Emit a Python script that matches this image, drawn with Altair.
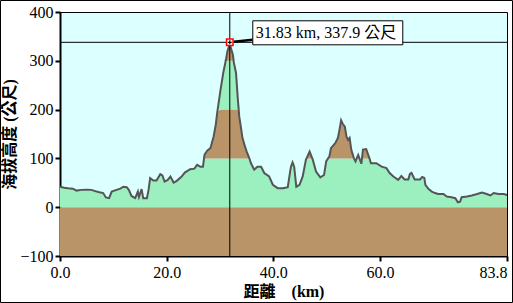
import altair as alt
import pandas as pd

# distance (km) and elevation (m) read from the profile
km = [0.0, 0.8, 1.5, 2.4, 3.1, 4.0, 5.0, 5.9, 6.6, 7.2, 8.1, 8.6, 9.2, 9.7, 10.6,
      11.3, 11.9, 12.5, 12.9, 13.4, 14.1, 14.6, 14.8, 15.3, 15.6, 16.3, 16.6, 16.9,
      17.5, 18.1, 18.8, 19.2, 19.6, 20.2, 20.7, 21.3, 21.9, 22.8, 23.4, 24.4, 25.2,
      25.7, 26.3, 26.8, 27.1, 27.6, 28.2, 28.8, 29.2, 29.5, 30.1, 30.6, 31.1, 31.4,
      31.83, 32.2, 32.4, 32.6, 33.0, 33.3, 33.6, 33.9, 34.2, 34.5, 34.7, 35.0, 35.5,
      35.8, 36.4, 37.0, 37.7, 38.3, 39.2, 39.9, 40.8, 41.8, 42.7, 43.1, 43.3, 43.6,
      43.9, 44.3, 44.9, 45.5, 46.1, 46.8, 47.4, 48.0, 48.8, 49.5, 49.9, 50.5, 50.8,
      51.6, 52.1, 52.4, 52.7, 53.0, 53.4, 53.7, 54.0, 54.3, 54.6, 55.1, 55.4, 55.9,
      56.2, 56.5, 56.8, 57.4, 57.9, 58.3, 59.3, 60.3, 61.2, 61.8, 62.5, 63.4, 64.0,
      64.6, 65.3, 65.6, 65.9, 66.5, 67.5, 67.9, 68.3, 68.5, 69.1, 69.7, 70.3, 70.9,
      71.9, 72.5, 73.4, 74.1, 74.6, 75.0, 75.3, 76.3, 77.2, 78.2, 79.1, 80.0, 80.7,
      81.3, 82.2, 83.2, 83.8]
elev = [42, 40, 39, 38, 34, 35.5, 36, 35.5, 33, 31, 29, 20, 18.5, 32, 35.5,
        38, 42, 41, 35.5, 23, 18.5, 32, 21, 37, 18.5, 18.5, 35.5, 59.5,
        54.7, 54.7, 67.7, 65, 52.6, 56, 62.8, 50.5, 54, 62.8, 71, 78, 79,
        87, 83, 83, 108, 116, 121, 145, 169, 196, 241, 275, 302, 320,
        334, 320, 313, 296, 275, 227, 186, 165, 142, 131, 124, 114, 100,
        90, 77, 83, 83, 70, 63, 46, 39, 39, 41, 70, 83, 92,
        83, 42, 46, 63, 97, 114, 97, 73, 61, 66, 94, 104, 121,
        131, 142, 159, 178, 171, 165, 145, 138, 142, 118, 100, 94, 107,
        98, 89, 118, 119, 104, 90, 90, 83, 80, 70, 63, 56, 64,
        57, 57, 68, 70, 57, 57, 62, 60, 46, 37, 32, 29, 27,
        27, 22, 20.5, 18.5, 10, 11.5, 20.5, 22, 24, 27, 30, 27, 24,
        29, 27, 27, 25]

x_ticks = [0, 20, 40, 60, 83.8]
y_ticks = [-100, 0, 100, 200, 300, 400]
band_lo = [-100, 0, 100, 200, 300]
band_hi = [0, 100, 200, 300, 400]
band_col = ["#B99468", "#9CF0C0", "#B99468", "#9CF0C0", "#B99468"]

cross_km = 31.83
cross_elev = 337.9
cross_label = "31.83 km, 337.9 公尺"

df = pd.DataFrame({"km": km, "elev": elev})
pt = pd.DataFrame({"km": [cross_km], "elev": [cross_elev], "label": [cross_label]})

SERIF = "Liberation Serif, Times New Roman, serif"
FONT = "Liberation Serif, Times New Roman, Noto Sans CJK TC, serif"

xscale = alt.Scale(domain=[0, 83.8], nice=False, zero=False)
yscale = alt.Scale(domain=[-100, 400], nice=False, zero=False)

xaxis = alt.Axis(
    values=x_ticks, format=".1f", title="距離　(km)", grid=False,
    labelFlush=False, labelOverlap=False,
    labelAlign={"condition": {"test": "datum.value > 80", "value": "right"}, "value": "center"},
    labelPadding=3, titlePadding=3,
)
yaxis = alt.Axis(
    values=y_ticks, format="d", title="海拔高度 (公尺)", grid=False,
    labelPadding=2, titlePadding=2,
)


def X(field="km"):
    return alt.X(f"{field}:Q", scale=xscale, axis=xaxis)


def Y(field="elev"):
    return alt.Y(f"{field}:Q", scale=yscale, axis=yaxis)


base = alt.Chart(df)

layers = []
for lo, hi, col in zip(band_lo, band_hi, band_col):
    layers.append(
        base.transform_calculate(
            top=f"clamp(datum.elev, {lo}, {hi})", bot=f"{lo}"
        ).mark_area(color=col, opacity=1).encode(
            x=X(), y=Y("top"), y2="bot:Q"
        )
    )

line = base.mark_line(color="#555555", strokeWidth=2).encode(x=X(), y=Y())

p = alt.Chart(pt)
vrule = p.mark_rule(color="black", strokeWidth=1).encode(x=X())
hrule = p.mark_rule(color="black", strokeWidth=1).encode(y=Y())
pointer = p.mark_rule(color="black", strokeWidth=2.5, xOffset=4, x2Offset=23,
                      yOffset=-0.5, y2Offset=-2.5).encode(
    x=X(), x2="km:Q", y=Y(), y2="elev:Q")
box = p.mark_rect(fill="white", stroke="black", strokeWidth=1,
                  xOffset=23, x2Offset=173, yOffset=-21.5, y2Offset=2.5).encode(
    x=X(), x2="km:Q", y=Y(), y2="elev:Q")
txt = p.mark_text(font=FONT, fontSize=16, color="black", align="left",
                  baseline="middle", dx=26, dy=-9.5).encode(
    x=X(), y=Y(), text="label:N")
marker = p.mark_point(shape="square", size=42, fill="white", stroke="red",
                      strokeWidth=1.5, opacity=1, filled=False, fillOpacity=1).encode(x=X(), y=Y())
plus = p.mark_point(shape="M-1,0L1,0M0,-1L0,1", size=16, stroke="black",
                    strokeWidth=1.2, opacity=1).encode(x=X(), y=Y())
frame = p.mark_rect(fillOpacity=0, stroke="black", strokeWidth=1).encode(
    x=alt.value(-59.5), x2=alt.value(452.5), y=alt.value(-11.5), y2=alt.value(290.5))

chart = alt.layer(*layers, line, vrule, hrule, pointer, box, txt, marker, plus, frame).properties(
    width=447, height=244,
    padding={"left": 60, "top": 12, "right": 6, "bottom": 47},
    autosize=alt.AutoSizeParams(type="none"),
    background="white",
).configure_view(
    fill="#DCFFFF", stroke="black", strokeWidth=1
).configure_axis(
    labelFont=SERIF, labelFontSize=16, labelColor="black",
    titleFont=FONT, titleFontSize=16, titleFontWeight="bold", titleColor="black",
    domainColor="black", domainWidth=2, tickColor="black", tickWidth=2, tickSize=5,
)

chart.save("out.html", embed_options={"renderer": "svg", "actions": False})
